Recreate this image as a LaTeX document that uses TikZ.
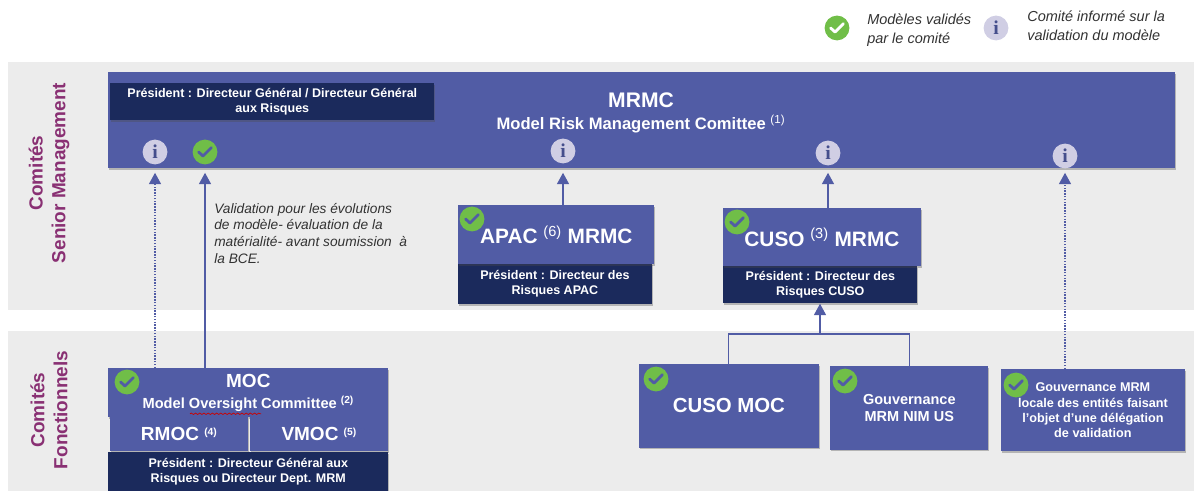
\documentclass[tikz,border=0pt]{standalone}
\usepackage{fontspec}
\setmainfont{Liberation Sans}
\usepackage{xcolor}
\usetikzlibrary{arrows.meta, positioning, calc, shadows, decorations.pathmorphing}
\definecolor{bandgrey}{RGB}{236,236,236}
\definecolor{boxblue}{RGB}{81,92,165}
\definecolor{presnavy}{RGB}{27,42,92}
\definecolor{okgreen}{RGB}{112,190,72}
\definecolor{infolilac}{RGB}{208,206,228}
\definecolor{sidepurple}{RGB}{137,48,115}
\definecolor{notegrey}{RGB}{50,50,50}
\newcommand{\refmark}[1]{\textsuperscript{\mdseries(#1)}}
\newcommand{\fsize}[1]{\fontsize{#1}{1.2\dimexpr#1pt\relax}\selectfont}
\newcommand{\refbold}[1]{{\fsize{10.5}\textsuperscript{(#1)}}}
\tikzset{
    band/.style={fill=bandgrey, draw=none, inner sep=0pt, anchor=north west},
    boxshadow/.style={drop shadow={shadow xshift=0.8pt, shadow yshift=-1.4pt, opacity=0.35, fill=black!70}},
    bluebox/.style={fill=boxblue, draw=none, inner sep=0pt, anchor=north west, boxshadow, text=white, align=center, font=\bfseries},
    presbox/.style={fill=presnavy, draw=none, inner sep=0pt, anchor=north west, boxshadow, text=white, align=center, font=\bfseries\fsize{8.9}},
    okicon/.style={circle, fill=okgreen, inner sep=0pt, minimum size=0.62cm,
        path picture={\draw[#1, line width=2pt, line cap=round, line join=round]
            ([shift={(-0.16cm,0cm)}]path picture bounding box.center) -- ++(0.11cm,-0.1cm) -- ++(0.21cm,0.21cm);}},
    okicon/.default=boxblue,
    infoicon/.style={circle, fill=infolilac, inner sep=0pt, minimum size=0.62cm, text=boxblue!85!black, font=\fontspec{Liberation Serif}\bfseries\fsize{14}},
    link/.style={boxblue, line width=0.8pt},
    uplink/.style={link, -{Triangle[length=8pt, width=8.5pt]}, shorten >=3pt},
    dotlink/.style={boxblue, line width=0.8pt, dash pattern=on 1pt off 1pt, -{Triangle[length=8pt, width=8.5pt, line cap=butt]}, shorten >=3pt},
    sidetext/.style={rotate=90, text=sidepurple, align=center, font=\bfseries\fsize{13.5}},
    note/.style={anchor=north west, align=left, text=notegrey, inner sep=0pt, font=\itshape\fontsize{9.75}{11.8}\selectfont},
    legendnote/.style={note, font=\itshape\fontsize{10.3}{12.9}\selectfont}
}
\begin{document}
\begin{tikzpicture}[x=0.025cm, y=-0.025cm]
    \useasboundingbox (0,0) rectangle (1194,491);

    % Bands
    \node[band, minimum width=29.65cm, minimum height=6.2cm] (bandtop) at (8,62) {};
    \node[band, minimum width=29.65cm, minimum height=4cm] (bandbottom) at (8,331) {};
    \node[sidetext] (sidetop) at (49,173) {Comités\\Senior Management};
    \node[sidetext] (sidebottom) at (49,410) {Comités\\Fonctionnels};

    % Legend
    \node[okicon=white] (legendok) at (837,28) {};
    \node[legendnote] (legendoktext) at (867,14) {Modèles validés\\par le comité};
    \node[infoicon] (legendinfo) at (996,28) {i};
    \node[legendnote] (legendinfotext) at (1027,11) {Comité informé sur la\\validation du modèle};

    % Senior management
    \node[bluebox, minimum width=26.65cm, minimum height=2.4cm] (mrmc) at (108,72) {};
    \node[text=white, align=center, font=\bfseries\fsize{11.8}] (mrmctext) at (641,113)
        {{\fsize{15}MRMC}\\[1pt]Model Risk Management Comittee \refmark{1}};
    \node[presbox, minimum width=8.1cm, minimum height=0.93cm] (mrmcpres) at (110,83)
        {Président : Directeur Général / Directeur Général\\aux Risques};
    \node[infoicon] (infoa) at (155,152) {i};
    \node[okicon] (oka) at (205,152) {};
    \node[infoicon] (infob) at (563,151) {i};
    \node[infoicon] (infoc) at (828,153) {i};
    \node[infoicon] (infod) at (1065,156) {i};

    \node[note] (valnote) at (214,203) {Validation pour les évolutions\\de modèle- évaluation de la\\matérialité- avant soumission\ \ à\\la BCE.};

    \node[presbox, minimum width=4.83cm, minimum height=1.03cm] (apacpres) at (458,263) {Président : Directeur des\\Risques APAC};
    \node[bluebox, minimum width=4.9cm, minimum height=1.47cm, font=\bfseries\fsize{14.8}] (apac) at (458,205) {APAC \refmark{6} MRMC};
    \node[okicon] (okapac) at (472,219) {};

    \node[presbox, minimum width=4.85cm, minimum height=0.93cm] (cusopres) at (723,266) {Président : Directeur des\\Risques CUSO};
    \node[bluebox, minimum width=4.93cm, minimum height=1.45cm, font=\bfseries\fsize{14.8}] (cuso) at (723,208) {CUSO \refmark{3} MRMC};
    \node[okicon] (okcuso) at (737,222) {};

    % Fonctionnels
    \node[bluebox, minimum width=7cm, minimum height=1.23cm, font=\bfseries\fsize{10.4}] (moc) at (108,368)
        {{\fsize{13.5}MOC}\\[2pt]Model Oversight Committee \textsuperscript{(2)}};
    \node[okicon] (okmoc) at (127,382) {};
    \draw[red!80!black, line width=0.5pt, decorate, decoration={snake, amplitude=0.5pt, segment length=3pt}]
        (moc.south west) ++(82,-4) coordinate (squigstart) -- ++(71,0) coordinate (squigend);
    \node[bluebox, minimum width=3.45cm, minimum height=0.85cm, font=\bfseries\fsize{13.5}] (rmoc) at (110,417) {RMOC \refbold{4}};
    \node[bluebox, minimum width=3.45cm, minimum height=0.85cm, font=\bfseries\fsize{13.5}] (vmoc) at (250,417) {VMOC \refbold{5}};
    \node[presbox, minimum width=7cm, minimum height=0.98cm] (mocpres) at (108,452) {Président : Directeur Général aux\\Risques ou Directeur Dept. MRM};

    \node[bluebox, minimum width=4.48cm, minimum height=2.08cm, font=\bfseries\fsize{14.5}] (cusomoc) at (639,364) {CUSO MOC};
    \node[okicon] (okcusomoc) at (656,379) {};
    \node[bluebox, minimum width=3.95cm, minimum height=2.08cm, font=\bfseries\fsize{10.3}] (nim) at (830,366) {Gouvernance\\MRM NIM US};
    \node[okicon] (oknim) at (845,381) {};
    \node[bluebox, minimum width=4.58cm, minimum height=2.05cm, font=\bfseries\fsize{9}] (locale) at (1001,369)
        {Gouvernance MRM\\locale des entités faisant\\l'objet d'une délégation\\de validation};
    \node[okicon] (oklocale) at (1016,385) {};

    % Connectors
    \coordinate (join) at (820,334);
    \draw[dotlink] (infoa |- moc.north) -- (infoa |- mrmc.south);
    \draw[uplink] (oka |- moc.north) -- (oka |- mrmc.south);
    \draw[uplink] (infob |- apac.north) -- (infob |- mrmc.south);
    \draw[uplink] (infoc |- cuso.north) -- (infoc |- mrmc.south);
    \draw[dotlink] (infod |- locale.north) -- (infod |- mrmc.south);
    \draw[link] (cusomoc.north) |- (join);
    \draw[link] (nim.north) |- (join);
    \draw[uplink, shorten >=0pt] (join) -- (join |- cusopres.south);
\end{tikzpicture}
\end{document}
